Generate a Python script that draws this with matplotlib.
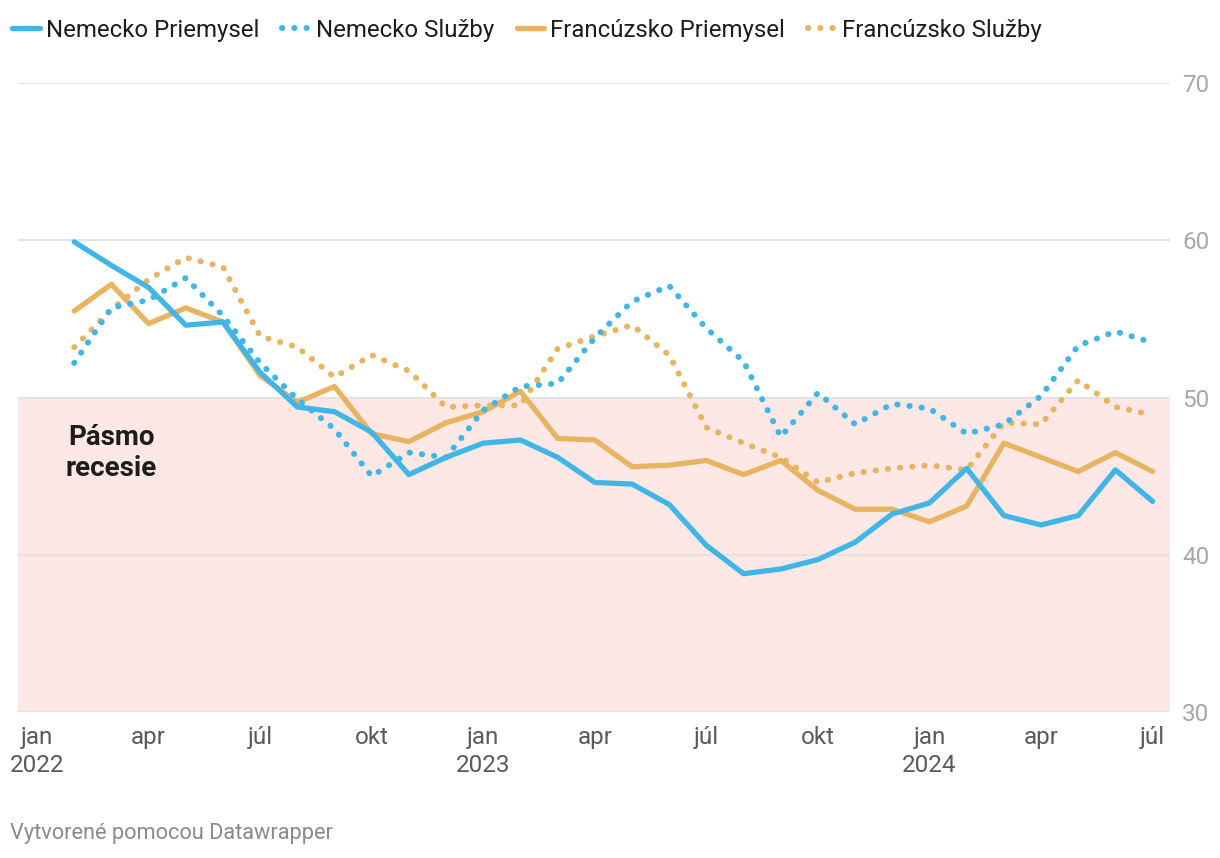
import matplotlib.pyplot as plt

plt.rcParams['font.family'] = ['Roboto', 'DejaVu Sans']

# months counted from jan 2022 (0) ; data from feb 2022 to jul 2024
months = list(range(1, 31))

de_priemysel = [59.9, 58.4, 57.0, 54.6, 54.8, 51.6, 49.4, 49.1, 47.8, 45.1, 46.2,
                47.1, 47.3, 46.2, 44.6, 44.5, 43.2, 40.6, 38.8, 39.1, 39.7, 40.8,
                42.6, 43.3, 45.5, 42.5, 41.9, 42.5, 45.4, 43.4]
de_sluzby = [52.2, 55.7, 56.2, 57.6, 55.2, 52.2, 49.9, 48.0, 45.0, 46.5, 46.2,
             49.2, 50.7, 50.9, 53.8, 56.1, 57.1, 54.4, 52.3, 47.5, 50.3, 48.3,
             49.6, 49.3, 47.7, 48.3, 50.1, 53.3, 54.2, 53.5]
fr_priemysel = [55.5, 57.2, 54.7, 55.7, 54.8, 51.4, 49.7, 50.7, 47.7, 47.2, 48.4,
                49.1, 50.4, 47.4, 47.3, 45.6, 45.7, 46.0, 45.1, 46.0, 44.1, 42.9,
                42.9, 42.1, 43.1, 47.1, 46.2, 45.3, 46.5, 45.3]
fr_sluzby = [53.2, 55.6, 57.5, 58.9, 58.3, 53.9, 53.2, 51.3, 52.7, 51.7, 49.4,
             49.5, 49.5, 53.1, 53.9, 54.6, 52.7, 48.1, 47.1, 46.2, 44.6, 45.2,
             45.5, 45.7, 45.4, 48.4, 48.3, 51.1, 49.4, 48.9]

tick_pos = list(range(0, 31, 3))
tick_labels = ['jan\n2022', 'apr', 'júl', 'okt', 'jan\n2023', 'apr', 'júl', 'okt',
               'jan\n2024', 'apr', 'júl']

blue = '#41b6e6'
orange = '#e8b462'

fig = plt.figure(figsize=(12.2, 8.58), dpi=100)
ax = fig.add_axes([0.0148, 0.170, 0.944, 0.7333])

ax.axhspan(30, 50, color='#fde8e6', zorder=0, lw=0)
for yv in [30, 40, 50, 60, 70]:
    ax.axhline(yv, color='#e3e3e3', lw=1.5, zorder=1)

dots = (0, (0.05, 2.0))
ax.plot(months, de_priemysel, color=blue, lw=3.8, solid_capstyle='round',
        solid_joinstyle='round', label='Nemecko Priemysel', zorder=3)
ax.plot(months, de_sluzby, color=blue, lw=4.3, ls=dots, dash_capstyle='round',
        label='Nemecko Služby', zorder=3)
ax.plot(months, fr_priemysel, color=orange, lw=3.8, solid_capstyle='round',
        solid_joinstyle='round', label='Francúzsko Priemysel', zorder=2)
ax.plot(months, fr_sluzby, color=orange, lw=4.3, ls=dots, dash_capstyle='round',
        label='Francúzsko Služby', zorder=2)

ax.text(2.0, 46.5, 'Pásmo\nrecesie', ha='center', va='center', fontsize=20,
        fontweight='bold', color='#1d1d1d', linespacing=1.2, zorder=4)

ax.set_xlim(-0.51, 30.46)
ax.set_ylim(30, 70)
ax.set_xticks(tick_pos)
ax.set_xticklabels(tick_labels, fontsize=17.5, color='#5a5a5a', linespacing=1.3)
ax.set_yticks([30, 40, 50, 60, 70])
ax.yaxis.tick_right()
ax.tick_params(axis='y', length=0, pad=9, labelsize=17.5, labelcolor='#a8a8a8')
ax.tick_params(axis='x', length=0, pad=10)
for s in ax.spines.values():
    s.set_visible(False)
ax.patch.set_alpha(0)

leg = fig.legend(loc='center left', bbox_to_anchor=(0.002, 0.965), ncol=4,
                 frameon=False, fontsize=17.3, handlelength=1.15,
                 handletextpad=0.25, columnspacing=0.95, borderaxespad=0)
for t in leg.get_texts():
    t.set_color('#1d1d1d')

fig.text(0.008, 0.028, 'Vytvorené pomocou Datawrapper', fontsize=15.7,
         color='#8a8a8a', va='center', ha='left')

fig.savefig('out.png', dpi=100)
